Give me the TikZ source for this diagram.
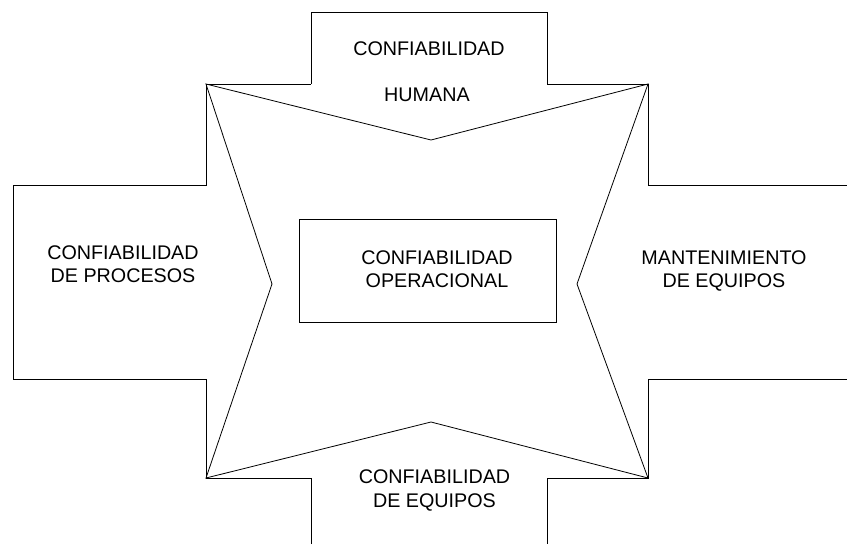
\documentclass[tikz,border=0pt]{standalone}
\usepackage{fontspec}
\setmainfont{Liberation Sans}
\begin{document}
\begin{tikzpicture}[x=0.75pt,y=-0.75pt,
  edge/.style={draw=black,line width=0.6pt,line join=miter},
  lbl/.style={inner sep=0pt,align=center,font=\fontsize{14.8}{17.5}\selectfont}]
\useasboundingbox (0,0) rectangle (847,544);
% corners of the core square
\coordinate (tl) at (206,84);
\coordinate (tr) at (648,84);
\coordinate (bl) at (206,478);
\coordinate (br) at (648,478);
% inward points of the star
\coordinate (pt) at (431,140);
\coordinate (pr) at (577,284);
\coordinate (pb) at (431,422);
\coordinate (pl) at (272,284);
% outer cross outline
\draw[edge] (311,84) -- (311,12) -- (547,12) -- (547,84) -- (tr) -- (648,185) -- (847,185);
\draw[edge] (847,379) -- (648,379) -- (br) -- (547,478) -- (547,544);
\draw[edge] (311,544) -- (311,478) -- (bl) -- (206,379) -- (13,379) -- (13,185) -- (206,185) -- (tl) -- (311,84);
% star
\draw[edge] (tl) -- (pt) -- (tr) -- (pr) -- (br) -- (pb) -- (bl) -- (pl) -- cycle;
% central box
\draw[edge] (299,219) rectangle (556,322);
% labels
\node[lbl,anchor=base] (t1) at (429,55) {CONFIABILIDAD};
\node[lbl,anchor=base] (t2) at (427,101.5) {HUMANA};
\node[lbl] (c) at (437,269.5) {CONFIABILIDAD\\OPERACIONAL};
\node[lbl] (l) at (123,264) {CONFIABILIDAD\\DE PROCESOS};
\node[lbl] (r) at (724,271) {MANTENIMIENTO\\DE EQUIPOS};
\node[lbl] (b) at (434.5,490.5) {CONFIABILIDAD\\DE EQUIPOS};
\end{tikzpicture}
\end{document}
